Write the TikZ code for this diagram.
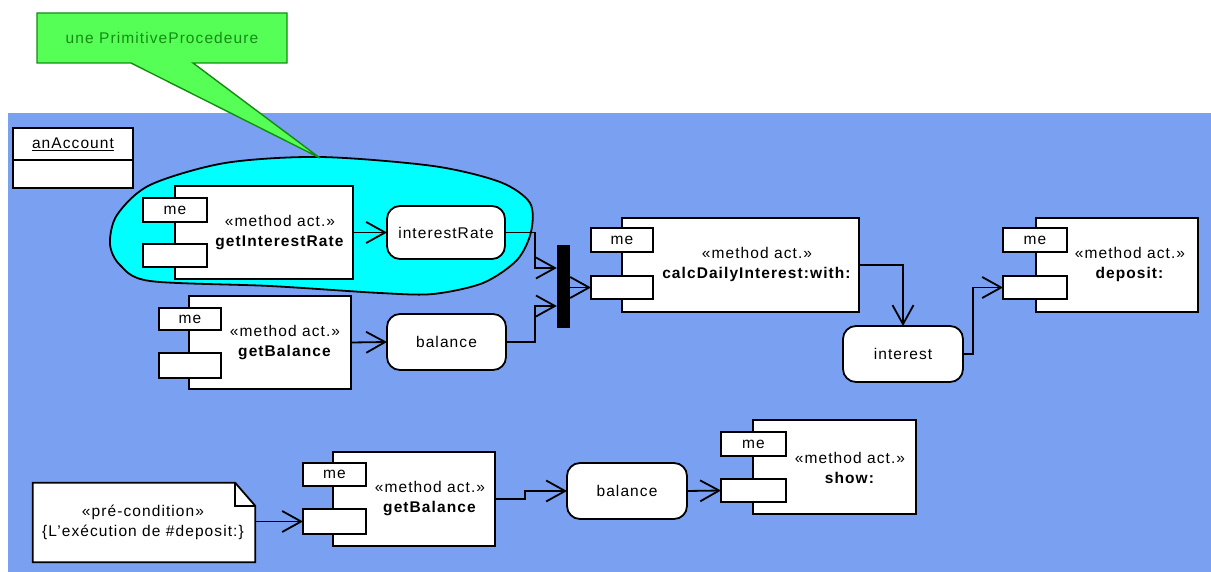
\documentclass[tikz,border=0pt]{standalone}
\usepackage{fontspec}
\setmainfont{Liberation Sans}[LetterSpace=7]
\usetikzlibrary{arrows.meta,calc}
\definecolor{bgblue}{RGB}{122,160,242}
\definecolor{blobcyan}{RGB}{0,255,255}
\definecolor{callgreen}{RGB}{85,255,85}
\definecolor{calldark}{RGB}{20,140,20}
\tikzset{
  box/.style={draw=black, line width=1.8pt, fill=white, inner sep=0pt, outer sep=0pt},
  pin/.style={box, font=\fontsize{15.5}{18}\selectfont},
  obj/.style={box, rounded corners=13pt, font=\fontsize{15.5}{18}\selectfont},
  lbl/.style={align=center, inner sep=0pt, font=\fontsize{15.5}{20}\selectfont},
  flow/.style={draw=black, line width=1.8pt, -{Straight Barb[length=19pt,width=21pt]}},
}
\begin{document}
\begin{tikzpicture}[x=1pt,y=-1pt]
\useasboundingbox (0,0) rectangle (1211,572);
% background panel
\fill[bgblue] (8,113) rectangle (1211,572);
% cyan blob
\draw[fill=blobcyan, line width=1.8pt] plot[smooth cycle, tension=0.5] coordinates {
  (320,157) (433,166) (500,182) (530,203) (531,232) (517,260) (483,283)
  (433,294) (380,293) (270,286) (150,281) (120,265) (110,244)
  (117,215) (150,185) (225,163)};
% callout
\draw[fill=callgreen, draw=calldark, line width=1.4pt]
  (37,13) -- (287,13) -- (287,63) -- (193,63) -- (320,158) -- (131,63) -- (37,63) -- cycle;
\node[lbl, text=calldark] (callout) at (162,38) {une PrimitiveProcedeure};
% anAccount
\node[box, minimum width=120pt, minimum height=60pt] (acc) at (73,158) {};
\draw[line width=1.8pt] ($(acc.north west)+(0,32)$) -- ($(acc.north east)+(0,32)$);
\node[lbl] (acctxt) at (73,144) {\underline{anAccount}};

% getInterestRate
\node[box, minimum width=178pt, minimum height=93pt] (gir) at (264,232.5) {};
\node[pin, minimum width=64pt, minimum height=24pt] (girme) at (175,210) {me};
\node[pin, minimum width=64pt, minimum height=23pt] (girpb) at (175,255.5) {};
\node[lbl] (girtxt) at (280,233) {«method act.»\\\textbf{getInterestRate}};
% interestRate
\node[obj, minimum width=118pt, minimum height=53pt] (ir) at (446,232.5) {interestRate};

% getBalance (upper)
\node[box, minimum width=162pt, minimum height=93pt] (gba) at (270,342.5) {};
\node[pin, minimum width=62pt, minimum height=22pt] (gbame) at (190,319) {me};
\node[pin, minimum width=62pt, minimum height=25pt] (gbapb) at (190,365.5) {};
\node[lbl] (gbatxt) at (285,342.5) {«method act.»\\\textbf{getBalance}};
% balance (upper)
\node[obj, minimum width=119pt, minimum height=56pt] (bala) at (446.5,342) {balance};

% join bar
\node[fill=black, inner sep=0pt, minimum width=13pt, minimum height=83pt] (bar) at (563.5,286.5) {};

% calcDailyInterest:with:
\node[box, minimum width=237pt, minimum height=94pt] (cdi) at (740.5,265) {};
\node[pin, minimum width=62pt, minimum height=24pt] (cdime) at (622,240) {me};
\node[pin, minimum width=62pt, minimum height=23pt] (cdipb) at (622,287.5) {};
\node[lbl] (cditxt) at (757,264) {«method act.»\\\textbf{calcDailyInterest:with:}};

% interest
\node[obj, minimum width=120pt, minimum height=56pt] (int) at (903,354) {interest};

% deposit:
\node[box, minimum width=162pt, minimum height=94pt] (dep) at (1117,265) {};
\node[pin, minimum width=64pt, minimum height=24pt] (depme) at (1035,240) {me};
\node[pin, minimum width=64pt, minimum height=23pt] (deppb) at (1035,287.5) {};
\node[lbl] (deptxt) at (1130,264) {«method act.»\\\textbf{deposit:}};

% note
\node[inner sep=0pt, minimum width=222pt, minimum height=79pt] (note) at (144,522.5) {};
\draw[fill=white, line width=1.8pt] (note.north west) -- ([xshift=-20pt]note.north east)
  -- ([yshift=-23pt]note.north east) -- (note.south east) -- (note.south west) -- cycle;
\draw[line width=1.8pt] ([xshift=-20pt]note.north east) -- ([xshift=-20pt,yshift=-23pt]note.north east)
  -- ([yshift=-23pt]note.north east);
\node[lbl] (notetxt) at (143,522.5) {«pré-condition»\\\{L'exécution de \#deposit:\}};

% getBalance (lower)
\node[box, minimum width=162pt, minimum height=94pt] (gbb) at (414,499) {};
\node[pin, minimum width=63pt, minimum height=23pt] (gbbme) at (334.5,474.5) {me};
\node[pin, minimum width=63pt, minimum height=25pt] (gbbpb) at (334.5,521.5) {};
\node[lbl] (gbbtxt) at (430,499) {«method act.»\\\textbf{getBalance}};
% balance (lower)
\node[obj, minimum width=120pt, minimum height=56pt] (balb) at (627,491) {balance};

% show:
\node[box, minimum width=163pt, minimum height=94pt] (show) at (834.5,467) {};
\node[pin, minimum width=65pt, minimum height=24pt] (showme) at (753.5,444) {me};
\node[pin, minimum width=65pt, minimum height=23pt] (showpb) at (753.5,490.5) {};
\node[lbl] (showtxt) at (850,468) {«method act.»\\\textbf{show:}};

% connectors
\draw[flow] (gir.east) -- (ir.west);
\draw[flow] (gba.east) -- (bala.west);
\draw[flow] (ir.east) -- ++(30,0) |- ([yshift=18.5pt]bar.west);
\draw[flow] (bala.east) -- ++(29,0) |- ([yshift=-19.5pt]bar.west);
\draw[flow] (bar.east |- cdipb.west) -- (cdipb.west);
\draw[flow] (cdi.east) -| (int.north);
\draw[flow] (int.east) -- ++(10,0) |- (deppb.west);
\draw[flow] (note.east |- gbbpb.west) -- (gbbpb.west);
\draw[flow] (gbb.east) -- ++(30,0) |- (balb.west);
\draw[flow] (balb.east) -- (showpb.west);
\end{tikzpicture}
\end{document}
